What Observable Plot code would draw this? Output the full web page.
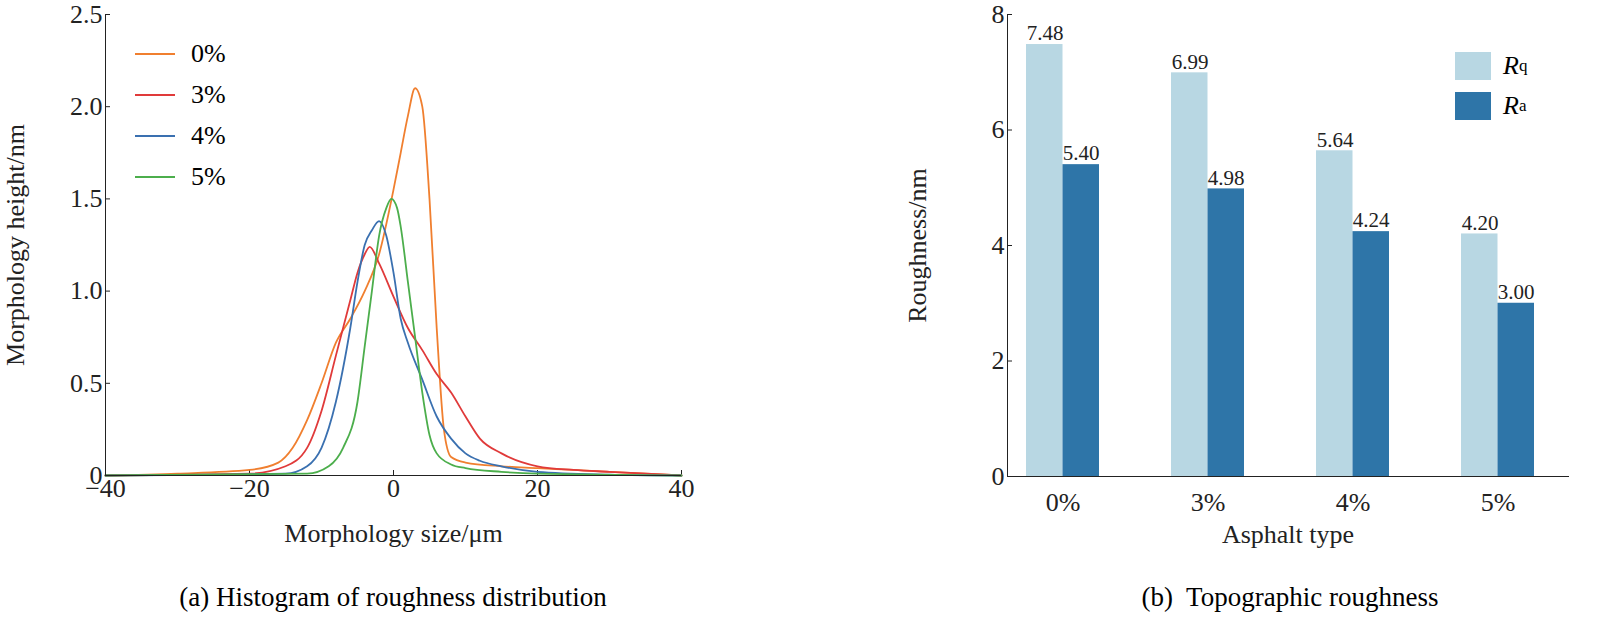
<!DOCTYPE html>
<html><head><meta charset="utf-8">
<script src="https://cdn.jsdelivr.net/npm/d3@7"></script>
<script src="https://cdn.jsdelivr.net/npm/@observablehq/plot@0.6"></script>
<style>
html,body{margin:0;background:#fff;font-family:"Liberation Serif",serif;overflow:hidden;}
#wrap{position:relative;width:1601px;height:634px;}
#row{display:flex;width:1601px;}
#row svg{flex-shrink:0;max-width:none;}
.cap{position:absolute;top:582px;font-size:27px;transform:translateX(-50%);white-space:nowrap;}
.leg{position:absolute;font-size:26px;font-family:"Liberation Serif",serif;}
.leg div{display:flex;align-items:center;height:41px;}
</style></head><body>
<div id="wrap"><div id="row"></div>
<div class="cap" style="left:393px">(a) Histogram of roughness distribution</div>
<div class="cap" style="left:1290px">(b)&nbsp; Topographic roughness</div>
<div id="leg1" class="leg" style="left:135px;top:33px"></div>
<div id="leg2" class="leg" style="left:1455px;top:46px"></div>
</div>
<script>
const series = ["0%","3%","4%","5%"];
const colors = ["#f07f2f","#e03a3a","#3a70b0","#4cae4c"];
const x0 = [-40,-30,-20,-16,-14,-12,-10,-8,-6,-4,-2,0,1,2,3,4,5,6,7,8,10,15,20,25,30,40];
const y0 = [0,0.01,0.03,0.07,0.15,0.3,0.5,0.72,0.85,1.0,1.2,1.55,1.75,1.95,2.1,2.0,1.5,0.8,0.25,0.1,0.07,0.05,0.04,0.03,0.02,0.0];
const x3 = [-40,-20,-15,-12,-10,-8,-6,-5,-4,-3.3,-2,0,2,4,6,8,10,12,15,20,25,30,40];
const y3 = [0,0.01,0.05,0.15,0.35,0.65,0.95,1.1,1.2,1.24,1.15,0.97,0.8,0.68,0.55,0.45,0.32,0.2,0.12,0.05,0.03,0.02,0];
const x4 = [-40,-15,-12,-10,-8,-6,-5,-4,-3,-2,-1,0,1,2,4,6,8,10,12,15,20,30,40];
const y4 = [0,0.01,0.05,0.15,0.4,0.8,1.05,1.25,1.33,1.38,1.3,1.1,0.85,0.72,0.52,0.32,0.2,0.12,0.08,0.05,0.02,0.005,0];
const x5 = [-40,-12,-9,-7,-5,-4,-3,-2,-1,-0.3,0.5,1,2,3,4,5,6,8,10,15,20,40];
const y5 = [0,0.01,0.05,0.15,0.4,0.7,1.0,1.3,1.45,1.5,1.45,1.35,1.05,0.75,0.45,0.22,0.12,0.06,0.04,0.02,0.01,0];
const groups = ["0%","3%","4%","5%"];
const rq = [7.48,6.99,5.64,4.20];
const ra = [5.40,4.98,4.24,3.00];

const xs=[x0,x3,x4,x5], ys=[y0,y3,y4,y5];
const lineData = series.flatMap((s,i)=>xs[i].map((x,j)=>({s,x,y:ys[i][j]})));
const font = "Liberation Serif, serif";

const p1 = Plot.plot({
  width:720,height:560,marginLeft:105,marginRight:39,marginTop:14,marginBottom:85,
  style:{fontFamily:font,fontSize:"26px",color:"#222"},
  x:{domain:[-40,40]},
  y:{domain:[0,2.5]},
  color:{domain:series,range:colors},
  marks:[
    Plot.axisX({ticks:[-40,-20,0,20,40],tickSize:-5,tickPadding:8,label:"Morphology size/μm",labelArrow:"none",labelAnchor:"center",labelOffset:66,tickFormat:d=>d<0?"−"+(-d):d,fontSize:26,fontFamily:font}),
    Plot.axisY({ticks:[0,0.5,1,1.5,2,2.5],tickSize:-5,tickPadding:8,label:"Morphology height/nm",labelArrow:"none",labelAnchor:"center",labelOffset:100,tickFormat:d=>d===0?"0":d.toFixed(1),fontSize:26,fontFamily:font}),
    Plot.lineY(lineData,{x:"x",y:"y",stroke:"s",strokeWidth:1.8,curve:"monotone-x"}),
    Plot.ruleY([0],{stroke:"#222"}),
    Plot.ruleX([-40],{stroke:"#222"})
  ]
});
const barData = groups.map((g,i)=>({g,rq:rq[i],ra:ra[i]}));
const p2 = Plot.plot({
  width:881,height:560,marginLeft:287,marginRight:33,marginTop:14,marginBottom:84,
  style:{fontFamily:font,fontSize:"26px",color:"#222"},
  x:{domain:groups,range:[305,815],padding:0.5,paddingOuter:0},
  y:{domain:[0,8]},
  marks:[
    Plot.axisX({tickSize:0,tickPadding:16,label:"Asphalt type",labelArrow:"none",labelAnchor:"center",labelOffset:66,fontSize:26,fontFamily:font}),
    Plot.axisY({ticks:[0,2,4,6,8],tickSize:-5,tickPadding:8,label:"Roughness/nm",labelArrow:"none",labelAnchor:"center",labelOffset:100,fontSize:26,fontFamily:font}),
    Plot.barY(barData,{x:"g",y:"rq",fill:"#b8d7e3",insetRight:36.5}),
    Plot.barY(barData,{x:"g",y:"ra",fill:"#2e75a8",insetLeft:36.5}),
    Plot.text(barData,{x:"g",y:"rq",text:d=>d.rq.toFixed(2),dx:-18,dy:-11,fontSize:21,fill:"#222",fontFamily:font}),
    Plot.text(barData,{x:"g",y:"ra",text:d=>d.ra.toFixed(2),dx:18,dy:-11,fontSize:21,fill:"#222",fontFamily:font}),
    Plot.frame({anchor:"left",stroke:"#222"}),
    Plot.frame({anchor:"bottom",stroke:"#222"})
  ]
});
document.getElementById("row").append(p1,p2);
document.getElementById("leg1").innerHTML = series.map((s,i)=>`<div><span style="display:inline-block;width:40px;height:2px;background:${colors[i]};margin-right:16px"></span>${s}</div>`).join("");
document.getElementById("leg2").innerHTML = [["#b8d7e3","q"],["#2e75a8","a"]].map(([c,t])=>`<div style="height:40px"><span style="display:inline-block;width:36px;height:28px;background:${c};margin-right:12px"></span><i>R</i><sub style="font-size:17px">${t}</sub></div>`).join("");
</script></body></html>
